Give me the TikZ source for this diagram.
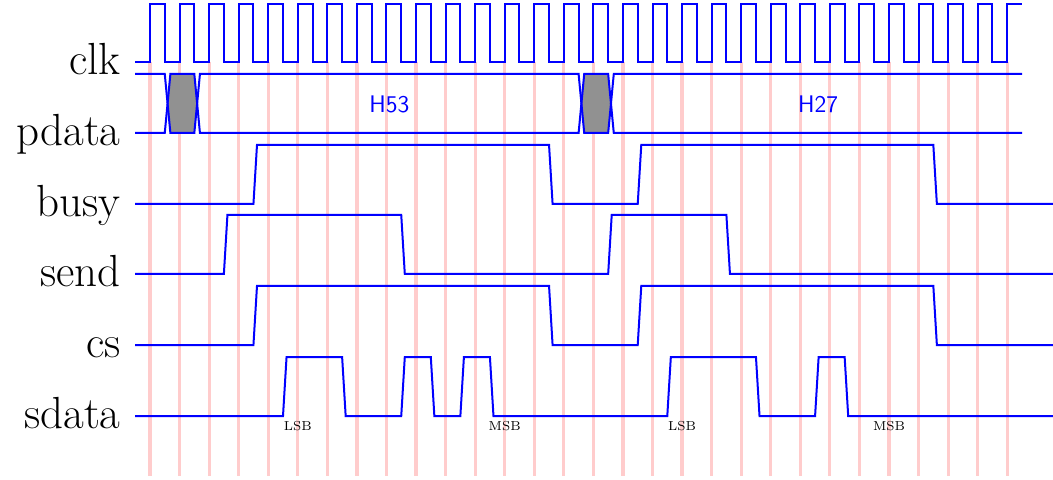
\documentclass[tikz,border=0pt]{standalone}
\usetikzlibrary{calc}
\begin{document}
\begin{tikzpicture}[x=0.5pt,y=-0.5pt,
  sig/.style={draw=blue,line width=1pt,line join=miter},
  gridline/.style={draw=red!20,line width=1.6pt},
  rowname/.style={anchor=mid east,font=\fontsize{22.5}{27}\selectfont,inner sep=0pt},
  bitname/.style={anchor=north,font=\fontsize{6.5}{7}\selectfont,inner sep=0pt},
  dataname/.style={font=\sffamily\large,text=blue,inner sep=0pt},
  undef/.style={fill=black!43,draw=olive!60,line width=0.3pt}]
\useasboundingbox (0,0) rectangle (1053,480);
% row names
\node[rowname] (nclk)   at (121,70)  {clk};
\node[rowname] (npdata) at (121,141) {pdata};
\node[rowname] (nbusy)  at (121,212) {busy};
\node[rowname] (nsend)  at (121,282) {send};
\node[rowname] (ncs)    at (121,353) {cs};
\node[rowname] (nsdata) at (121,424) {sdata};
\begin{scope}[shift={(135.2,0)},x=7.39pt]
\def\s{0.24}
\def\sd{0.38}
% grid
\foreach \i in {1,3,...,59} \draw[gridline] (\i,62) -- (\i,476);
% clock
\draw[sig] (0,62) foreach \i in {1,3,...,57} { -- (\i,62) -- (\i,4) -- ({\i+1},4) -- ({\i+1},62) } -- (59,62) -- (59,4) -- (60,4);
% pdata
\foreach \a/\b in {2/4,30/32}
  \path[undef] ({\a+\sd/2},103.5) -- ({\a+\sd},74) -- (\b,74) -- ({\b+\sd/2},103.5) -- (\b,133) -- ({\a+\sd},133) -- cycle;
\draw[sig] (0,74) -- (2,74) -- ({2+\sd},133) -- (4,133) -- ({4+\sd},74) -- (30,74) -- ({30+\sd},133) -- (32,133) -- ({32+\sd},74) -- (60,74);
\draw[sig] (0,133) -- (2,133) -- ({2+\sd},74) -- (4,74) -- ({4+\sd},133) -- (30,133) -- ({30+\sd},74) -- (32,74) -- ({32+\sd},133) -- (60,133);
\node[dataname] (h53) at (17.2,104) {H53};
\node[dataname] (h27) at (46.2,104) {H27};
% busy and cs
\foreach \lo/\hi in {204/145,345/286}
  \draw[sig] (0,\lo) -- (8,\lo) -- ({8+\s},\hi) -- (28,\hi) -- ({28+\s},\lo) -- (34,\lo) -- ({34+\s},\hi) -- (54,\hi) -- ({54+\s},\lo) -- (62.2,\lo);
% send
\draw[sig] (0,274) -- (6,274) -- ({6+\s},215) -- (18,215) -- ({18+\s},274) -- (32,274) -- ({32+\s},215) -- (40,215) -- ({40+\s},274) -- (62.2,274);
% sdata
\draw[sig] (0,416) -- (10,416) -- ({10+\s},357) -- (14,357) -- ({14+\s},416) -- (18,416) -- ({18+\s},357) -- (20,357) -- ({20+\s},416) -- (22,416) -- ({22+\s},357) -- (24,357) -- ({24+\s},416) -- (36,416) -- ({36+\s},357) -- (42,357) -- ({42+\s},416) -- (46,416) -- ({46+\s},357) -- (48,357) -- ({48+\s},416) -- (62.2,416);
\node[bitname] (lsb1) at (11,421) {LSB};
\node[bitname] (msb1) at (25,421) {MSB};
\node[bitname] (lsb2) at (37,421) {LSB};
\node[bitname] (msb2) at (51,421) {MSB};
\end{scope}
\end{tikzpicture}
\end{document}
